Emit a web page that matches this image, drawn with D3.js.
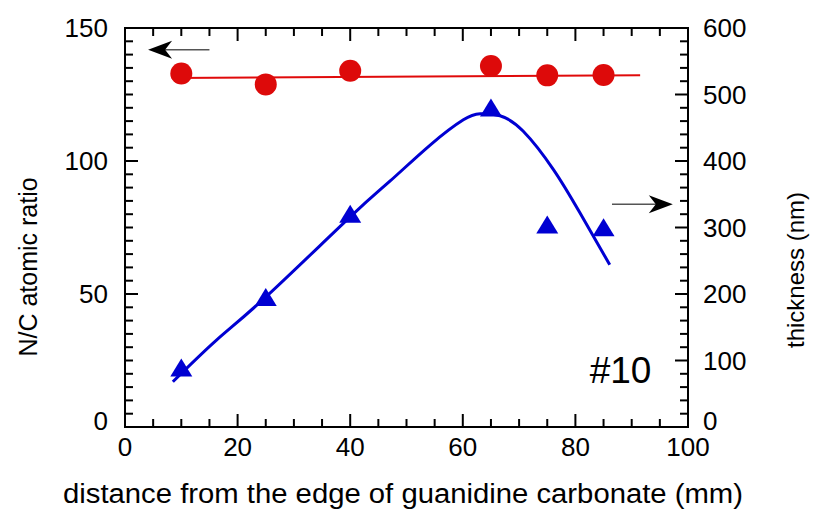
<!DOCTYPE html>
<html>
<head>
<meta charset="utf-8">
<script src="https://cdn.jsdelivr.net/npm/d3@7"></script>
<style>
  body { margin: 0; background: #fff; }
  text { font-family: "Liberation Sans", Arial, Helvetica, sans-serif; fill: #000; }
</style>
</head>
<body>
<script>
  // measured points
  var distance = [10, 25, 40, 65, 75, 85];
  var ncRatio = [132.9, 128.8, 133.9, 135.7, 132.2, 132.3];
  var thickness = [85, 191, 316, 476, 300, 296];

  // straight fit through N/C
  var ncFitX = [8.3, 91.5];
  var ncFitY = [131.2, 132.2];

  // guide curve through thickness
  var thickFitX = [8.5, 16.3, 25.2, 40, 47.1, 54.2, 60.1, 63.1, 66.6, 70.7, 76.1, 80.8, 86.1];
  var thickFitY = [68, 131, 197, 316, 370, 424, 462, 471, 468, 445, 387, 322, 244];

  var xTicks = [0, 20, 40, 60, 80, 100];
  var leftTicks = [0, 50, 100, 150];
  var rightTicks = [0, 100, 200, 300, 400, 500, 600];

  var margin = {top: 28, right: 126, bottom: 90, left: 125},
      width = 814 - margin.left - margin.right,
      height = 517 - margin.top - margin.bottom;

  var xScale = d3.scaleLinear().domain([0, 100]).range([0, width]);
  var yLeft = d3.scaleLinear().domain([0, 150]).range([height, 0]);
  var yRight = d3.scaleLinear().domain([0, 600]).range([height, 0]);

  var svg = d3.select("body").append("svg")
            .attr("width", 814)
            .attr("height", 517);

  var g = svg.append("g")
            .attr("transform", "translate(" + margin.left + "," + margin.top + ")");

  // inward ticks, long on the labelled values
  function tickLen(v, step) { return Math.abs(v / step - Math.round(v / step)) < 1e-6 ? 13 : 8; }

  var xMinor = d3.range(0, 101, 5);
  var lMinor = d3.range(0, 151, 5);
  var rMinor = d3.range(0, 601, 20);

  var ticks = g.append("g").attr("stroke", "#000").attr("stroke-width", 2);

  ticks.selectAll(".xb").data(xMinor).enter().append("line")
    .attr("x1", function(d) { return xScale(d); })
    .attr("x2", function(d) { return xScale(d); })
    .attr("y1", height)
    .attr("y2", function(d) { return height - tickLen(d, 20); });

  ticks.selectAll(".xt").data(xMinor).enter().append("line")
    .attr("x1", function(d) { return xScale(d); })
    .attr("x2", function(d) { return xScale(d); })
    .attr("y1", 0)
    .attr("y2", function(d) { return tickLen(d, 20); });

  ticks.selectAll(".yl").data(lMinor).enter().append("line")
    .attr("x1", 0)
    .attr("x2", function(d) { return tickLen(d, 50); })
    .attr("y1", function(d) { return yLeft(d); })
    .attr("y2", function(d) { return yLeft(d); });

  ticks.selectAll(".yr").data(rMinor).enter().append("line")
    .attr("x1", width)
    .attr("x2", function(d) { return width - tickLen(d, 100); })
    .attr("y1", function(d) { return yRight(d); })
    .attr("y2", function(d) { return yRight(d); });

  // frame
  g.append("rect")
    .attr("width", width)
    .attr("height", height)
    .attr("fill", "none")
    .attr("stroke", "#000")
    .attr("stroke-width", 2);

  // tick labels (zero sits a little above its tick, as in the original)
  g.selectAll(".xl").data(xTicks).enter().append("text")
    .attr("x", function(d) { return xScale(d); })
    .attr("y", height + 29)
    .attr("text-anchor", "middle")
    .attr("font-size", "26px")
    .text(function(d) { return d; });

  g.selectAll(".ll").data(leftTicks).enter().append("text")
    .attr("x", -17)
    .attr("y", function(d) { return yLeft(d) - (d === 0 ? 6 : 0); })
    .attr("dy", "0.36em")
    .attr("text-anchor", "end")
    .attr("font-size", "26px")
    .text(function(d) { return d; });

  g.selectAll(".rl").data(rightTicks).enter().append("text")
    .attr("x", width + 15)
    .attr("y", function(d) { return yRight(d) - (d === 0 ? 6 : 0); })
    .attr("dy", "0.36em")
    .attr("text-anchor", "start")
    .attr("font-size", "26px")
    .text(function(d) { return d; });

  // axis titles
  svg.append("text")
    .attr("transform", "translate(28,267) rotate(-90)")
    .attr("dy", "0.36em")
    .attr("text-anchor", "middle")
    .attr("font-size", "25px")
    .text("N/C atomic ratio");

  svg.append("text")
    .attr("transform", "translate(795,270) rotate(-90)")
    .attr("dy", "0.36em")
    .attr("text-anchor", "middle")
    .attr("font-size", "24px")
    .text("thickness (nm)");

  svg.append("text")
    .attr("x", 403)
    .attr("y", 503)
    .attr("text-anchor", "middle")
    .attr("font-size", "27px")
    .attr("textLength", 680)
    .attr("lengthAdjust", "spacingAndGlyphs")
    .text("distance from the edge of guanidine carbonate (mm)");

  // N/C fit line and points
  var redLine = d3.line()
    .x(function(d) { return xScale(d[0]); })
    .y(function(d) { return yLeft(d[1]); });

  g.append("path")
    .attr("d", redLine(d3.zip(ncFitX, ncFitY)))
    .attr("fill", "none")
    .attr("stroke", "#e00a0a")
    .attr("stroke-width", 2);

  g.selectAll(".dot").data(d3.zip(distance, ncRatio)).enter().append("circle")
    .attr("cx", function(d) { return xScale(d[0]); })
    .attr("cy", function(d) { return yLeft(d[1]); })
    .attr("r", 11)
    .attr("fill", "#dd0a0a");

  // thickness curve and points
  var blueLine = d3.line()
    .x(function(d) { return xScale(d[0]); })
    .y(function(d) { return yRight(d[1]); })
    .curve(d3.curveNatural);

  g.append("path")
    .attr("d", blueLine(d3.zip(thickFitX, thickFitY)))
    .attr("fill", "none")
    .attr("stroke", "#0000d2")
    .attr("stroke-width", 3);

  g.selectAll(".tri").data(d3.zip(distance, thickness)).enter().append("path")
    .attr("transform", function(d) { return "translate(" + xScale(d[0]) + "," + yRight(d[1]) + ")"; })
    .attr("d", "M0,-12L11,6L-11,6Z")
    .attr("fill", "#0000d2");

  // arrows pointing to the axis each series uses
  function arrow(x0, x1, y) {
    var dir = x1 < x0 ? -1 : 1;
    g.append("line")
      .attr("x1", x0).attr("x2", x1 - dir * 14)
      .attr("y1", y).attr("y2", y)
      .attr("stroke", "#555")
      .attr("stroke-width", 1.5);
    g.append("path")
      .attr("d", "M" + x1 + "," + y +
                 "L" + (x1 - dir * 24) + "," + (y - 9) +
                 "L" + (x1 - dir * 17) + "," + y +
                 "L" + (x1 - dir * 24) + "," + (y + 9) + "Z")
      .attr("fill", "#000");
  }
  arrow(xScale(15), xScale(4.1), yLeft(141.8));
  arrow(xScale(86.5), xScale(97.3), yRight(335));

  g.append("text")
    .attr("x", xScale(93.5))
    .attr("y", yRight(66))
    .attr("text-anchor", "end")
    .attr("font-size", "37px")
    .text("#10");
</script>
</body>
</html>
